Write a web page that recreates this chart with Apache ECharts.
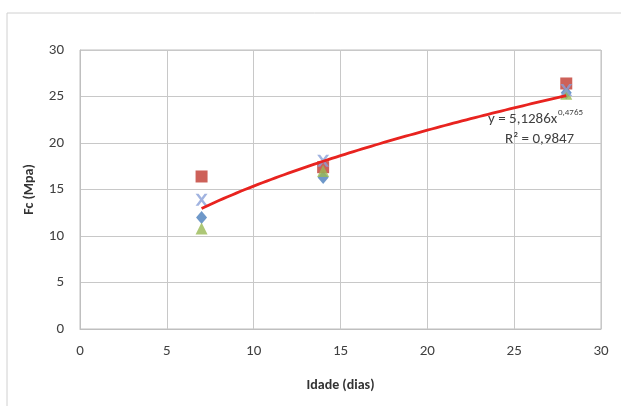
<!DOCTYPE html>
<html>
<head>
<meta charset="utf-8">
<script src="https://cdn.jsdelivr.net/npm/echarts@6/dist/echarts.min.js"></script>
<style>
  html, body { margin: 0; padding: 0; background: #fff; }
  #chart { width: 621px; height: 406px; }
</style>
</head>
<body>
<div id="chart"></div>
<script>
// Compressive strength (Fc, MPa) by curing age (days)
const ages = [7, 14, 28];
const serieDiamante = [12.0, 16.3, 25.4];
const serieQuadrado = [16.4, 17.4, 26.4];
const serieTriangulo = [10.8, 17.0, 25.3];
const serieX = [13.9, 18.1, 25.7];

// Power trendline y = a * x^b
const trendA = 5.1286;
const trendB = 0.4765;
const trendAText = '5,1286';
const trendBText = '0,4765';
const trendR2 = '0,9847';
const trendStart = 7;
const trendEnd = 28;

const trendPoints = [];
for (let x = trendStart; x <= trendEnd + 1e-9; x += 0.25) {
  trendPoints.push([x, trendA * Math.pow(x, trendB)]);
}

const pairs = vals => ages.map((a, i) => [a, vals[i]]);

const FONT = 'Carlito, "Liberation Sans", sans-serif';
const chart = echarts.init(document.getElementById('chart'), null, { renderer: 'canvas' });
const labelFont = { fontFamily: FONT, fontSize: 15, color: '#404040' };

chart.setOption({
  animation: false,
  backgroundColor: '#fff',
  grid: { left: 80, right: 20, top: 50, bottom: 77 },
  xAxis: {
    type: 'value', min: 0, max: 30, interval: 5,
    name: 'Idade (dias)', nameLocation: 'middle', nameGap: 49,
    nameTextStyle: { fontFamily: FONT, fontWeight: 'bold', fontSize: 14, color: '#333' },
    axisLine: { show: true, lineStyle: { color: '#bfbfbf', width: 1 } },
    axisTick: { show: false },
    axisLabel: Object.assign({}, labelFont, { margin: 15 }),
    splitLine: { show: true, lineStyle: { color: '#c8c8c8', width: 1 } }
  },
  yAxis: {
    type: 'value', min: 0, max: 30, interval: 5,
    name: 'Fc (Mpa)', nameLocation: 'middle', nameGap: 44, nameRotate: 90,
    nameTextStyle: { fontFamily: FONT, fontWeight: 'bold', fontSize: 14, color: '#333' },
    axisLine: { show: true, lineStyle: { color: '#bfbfbf', width: 1 } },
    axisTick: { show: false },
    axisLabel: Object.assign({}, labelFont, { margin: 16 }),
    splitLine: { show: true, lineStyle: { color: '#c8c8c8', width: 1 } }
  },
  graphic: [
    { type: 'rect', shape: { x: 7, y: 13, width: 640, height: 420 },
      style: { fill: 'none', stroke: '#d0d0d0', lineWidth: 1 }, silent: true, z: -1 },
    { type: 'rect', shape: { x: 80, y: 50, width: 521, height: 279 },
      style: { fill: 'none', stroke: '#bfbfbf', lineWidth: 1 }, silent: true },
    // trendline equation and R²
    { type: 'text', left: 488, top: 112, z: 10,
      style: { text: 'y = ' + trendAText + 'x', font: '15px ' + FONT, fill: '#404040' } },
    { type: 'text', left: 558, top: 108, z: 10,
      style: { text: trendBText, font: '9px ' + FONT, fill: '#404040' } },
    { type: 'text', left: 505, top: 132, z: 10,
      style: { text: 'R² = ' + trendR2, font: '15px ' + FONT, fill: '#404040' } }
  ],
  series: [
    { name: 'trend', type: 'line', data: trendPoints, showSymbol: false, smooth: false,
      lineStyle: { color: '#e8231f', width: 2.8 }, z: 3 },
    { name: 'Série 1', type: 'scatter', data: pairs(serieDiamante), symbol: 'diamond', symbolSize: [11, 13],
      itemStyle: { color: '#4a7ebb' }, z: 2 },
    { name: 'Série 2', type: 'scatter', data: pairs(serieQuadrado), symbol: 'rect', symbolSize: 12,
      itemStyle: { color: '#c0392f' }, z: 2 },
    { name: 'Série 3', type: 'scatter', data: pairs(serieTriangulo), symbol: 'triangle', symbolSize: [12, 12],
      itemStyle: { color: '#98b954' }, z: 2 },
    { name: 'Série 4', type: 'scatter', data: pairs(serieX),
      symbol: 'path://M0,0 L3,0 L6,4 L9,0 L12,0 L7.5,6 L12,12 L9,12 L6,8 L3,12 L0,12 L4.5,6 Z',
      symbolSize: 12, itemStyle: { color: '#8aa0d8' }, z: 2 }
  ]
});
</script>
</body>
</html>
